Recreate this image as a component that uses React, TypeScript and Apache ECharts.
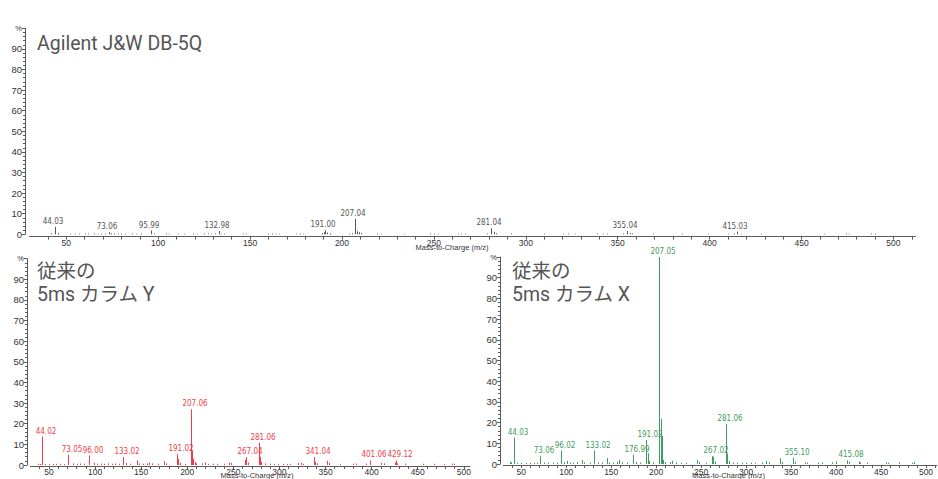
import React, { useEffect, useRef } from "react";
import * as echarts from "echarts";

// ---------- Top panel: Agilent J&W DB-5Q ----------
const topTitle = "Agilent J&W DB-5Q";
const topLabels = ["44.03", "73.06", "95.99", "132.98", "191.00", "207.04", "281.04", "355.04", "415.03"];
const topPeakX = [44.03, 73.06, 95.99, 132.98, 191.0, 207.04, 281.04, 355.04, 415.03];
const topPeakY = [3.6, 1.0, 1.8, 1.6, 1.9, 7.5, 2.9, 1.6, 1.3];
const topMinor: number[][] = [
  [41.5, 0.5], [45.3, 0.6], [52, 0.3], [55, 0.4], [57, 0.3], [60, 0.4], [62, 0.3], [65, 0.4], [67, 0.3], [69, 0.4],
  [71, 0.3], [74.5, 0.5], [76, 0.4], [78, 0.4], [80, 0.4], [82, 0.3], [86, 0.4], [88, 0.3], [90.5, 0.4], [97.5, 0.4],
  [104, 0.4], [106, 0.3], [111, 0.3], [114, 0.3], [119, 0.4], [121, 0.3], [125, 0.4], [127, 0.4], [129, 0.3], [131, 0.4],
  [134, 0.3], [136, 0.3], [146, 0.4], [148, 0.3], [160, 0.3], [162, 0.4], [164, 0.3], [166, 0.3], [175, 0.3], [177, 0.4],
  [179, 0.3], [189, 0.6], [190.3, 1.0], [192, 0.8], [193.5, 0.5], [204, 0.4], [205.5, 0.5], [208, 1.5], [209, 1.0], [210.5, 0.6],
  [219, 0.4], [221, 0.3], [234, 0.3], [248, 0.4], [250, 0.3], [252, 0.3], [263, 0.4], [265, 0.3], [267, 0.3], [279, 0.4],
  [282.5, 1.2], [284, 0.5], [292, 0.4], [310, 0.3], [320, 0.3], [323, 0.4], [327, 0.3], [339, 0.4], [342, 0.4], [344, 0.3],
  [353, 0.4], [356.5, 0.6], [358, 0.4], [369, 0.3], [385, 0.4], [399, 0.3], [410, 0.3], [413, 0.4], [417, 0.3], [428, 0.3],
  [462, 0.3], [474, 0.4], [476, 0.3], [488, 0.4], [490, 0.3],
];

// ---------- Bottom-left panel: conventional 5ms column Y ----------
const yTitle1 = "従来の";
const yTitle2 = "5ms カラム Y";
const yLabels = ["44.02", "73.05", "96.00", "133.02", "191.02", "207.06", "267.04", "281.06", "341.04", "401.06", "429.12"];
const yPeakX = [42.1, 70.9, 93.7, 130.6, 188.5, 204.0, 264.0, 277.8, 337.7, 397.9, 426.0];
const yPeakY = [13.8, 5.0, 4.6, 3.9, 5.2, 27.0, 3.8, 10.8, 3.8, 2.2, 2.2];
const yMinor: number[][] = [
  [38, 0.6], [40, 0.5], [46, 0.5], [50, 0.6], [54, 0.5], [58, 0.6], [62, 0.6], [66, 0.5], [76, 0.8], [80, 0.6],
  [84, 0.7], [88, 0.6], [99, 1.0], [102, 0.6], [106, 0.7], [110, 0.6], [114, 0.8], [118, 0.6], [122, 0.7], [126, 0.6],
  [134, 1.0], [138, 0.6], [145, 2.2], [148, 0.8], [152, 0.6], [156, 0.8], [159, 1.2], [162, 0.8], [168, 0.6], [174.5, 1.8],
  [177, 0.8], [190.3, 3.0], [192, 1.2], [198, 0.6], [205.2, 7.0], [206.3, 3.0], [208, 1.5], [210, 0.8], [216, 0.8], [219, 1.2],
  [222, 0.6], [228, 0.6], [232, 0.6], [240, 0.6], [245, 1.2], [248, 1.0], [262.5, 2.5], [266, 1.2], [279, 4.0], [280.5, 1.5],
  [284, 0.8], [290, 0.6], [294, 0.6], [298, 0.5], [304, 0.6], [308, 0.5], [312, 0.6], [320, 1.0], [323, 1.2], [326, 0.6],
  [339, 1.5], [341, 0.8], [351.7, 2.0], [354, 1.0], [366, 0.6], [380, 0.6], [383, 0.7], [394, 0.6], [398.5, 0.8], [410, 1.0],
  [413, 0.8], [425, 1.2], [427, 0.8], [436, 0.7], [456, 0.6], [468, 0.6], [478, 0.5], [487, 0.7], [489, 0.6],
];

// ---------- Bottom-right panel: conventional 5ms column X ----------
const xTitle1 = "従来の";
const xTitle2 = "5ms カラム X";
const xLabels = ["44.03", "73.06", "96.02", "133.02", "176.99", "191.02", "207.05", "267.02", "281.06", "355.10", "415.08"];
const xPeakX = [41.9, 71.0, 93.8, 130.6, 174.5, 189.0, 203.6, 262.4, 277.6, 352.3, 411.8];
const xPeakY = [12.7, 4.0, 6.4, 6.5, 4.5, 11.6, 100, 3.8, 19.4, 3.0, 1.8];
const xMinor: number[][] = [
  [37, 1.0], [38.5, 0.8], [45, 0.6], [50, 0.6], [55, 0.5], [60, 0.6], [64, 0.5], [68, 0.6], [75, 0.7], [80, 0.6],
  [85, 0.7], [90, 0.6], [97, 0.8], [101, 1.5], [104, 0.8], [108, 0.6], [112, 0.9], [117, 2.0], [120, 0.8], [126, 0.7],
  [135, 0.8], [140, 0.7], [144.8, 2.9], [148, 0.8], [152, 0.7], [156, 0.9], [159, 2.0], [162, 0.8], [168, 0.7], [178, 1.0],
  [182, 0.7], [190.8, 5.2], [192.5, 1.5], [197, 0.8], [205, 21.8], [206.1, 13.5], [208, 2.0], [210, 0.9], [215, 1.0], [218, 1.5],
  [222, 0.8], [228, 0.7], [233, 0.6], [245, 2.0], [248, 1.0], [255, 0.6], [263.3, 3.5], [265, 1.2], [279, 5.0], [280.5, 1.5],
  [285, 0.8], [290, 0.7], [295, 0.6], [300, 0.6], [305, 0.6], [310, 0.5], [318, 0.8], [322, 1.5], [325, 0.9], [337.5, 2.7],
  [340, 1.0], [354, 1.2], [366, 0.8], [368, 0.6], [380, 0.7], [384, 0.8], [396, 0.8], [400, 1.2], [414, 1.0], [425, 1.2],
  [427, 0.8], [434, 0.6], [455, 0.8], [458, 0.6], [470, 0.8], [484, 0.6], [487, 1.0],
];

const axisName = "Mass-to-Charge (m/z)";

const GRAY = "#555555";
const RED = "#ef3e48";
const GREEN = "#3f9c62";
const AXIS = "#5a5a5a";
const TXT = "#333333";
const TITLE = "#555555";
const TITLE_FONT = 'Roboto, "Noto Sans CJK JP", sans-serif';
const SMALL_FONT = '"Liberation Sans", Arial, sans-serif';
const LABEL_FONT = '"Liberation Sans Narrow", "DejaVu Sans Condensed", "Liberation Sans", sans-serif';

function lineItem(color: string) {
  return (params: any, api: any) => {
    const x = api.value(0);
    const y = api.value(1);
    const a = api.coord([x, 0]);
    const b = api.coord([x, y]);
    const px = Math.round(a[0]) + 0.5;
    return {
      type: "line",
      shape: { x1: px, y1: a[1], x2: px, y2: b[1] },
      style: { stroke: color, lineWidth: 1 },
    };
  };
}

function labeledItem(color: string, labels: string[], dx: number) {
  return (params: any, api: any) => {
    const x = api.value(0);
    const y = api.value(1);
    const a = api.coord([x, 0]);
    const b = api.coord([x, y]);
    const px = Math.round(a[0]) + 0.5;
    return {
      type: "group",
      children: [
        {
          type: "line",
          shape: { x1: px, y1: a[1], x2: px, y2: b[1] },
          style: { stroke: color, lineWidth: 1 },
        },
        {
          type: "text",
          x: px + dx,
          y: b[1] - 1.5,
          style: {
            text: labels[params.dataIndex],
            fill: color,
            fontSize: 8,
            fontFamily: LABEL_FONT,
            align: "center",
            verticalAlign: "bottom",
          },
        },
      ],
    };
  };
}

function xAxisOf(gridIndex: number, min: number, max: number, offset: number, margin: number) {
  return {
    type: "value",
    gridIndex,
    min,
    max,
    interval: 10,
    offset,
    axisLine: { show: true, onZero: false, lineStyle: { color: AXIS, width: 1 } },
    axisTick: { show: true, length: 3, lineStyle: { color: AXIS } },
    axisLabel: {
      color: TXT,
      fontSize: 8.5,
      fontFamily: SMALL_FONT,
      margin,
      showMaxLabel: false,
      showMinLabel: false,
      formatter: (v: number) => (v % 50 === 0 ? String(v) : ""),
    },
    splitLine: { show: false },
  };
}

function yAxisOf(gridIndex: number, offset: number) {
  return {
    type: "value",
    gridIndex,
    min: 0,
    max: 100,
    interval: 10,
    offset,
    axisLine: { show: true, lineStyle: { color: AXIS, width: 1 } },
    axisTick: { show: true, length: 3, lineStyle: { color: AXIS } },
    minorTick: { show: true, splitNumber: 5, length: 2, lineStyle: { color: AXIS } },
    axisLabel: {
      color: TXT,
      fontSize: 9.5,
      fontFamily: SMALL_FONT,
      margin: 3,
      formatter: (v: number) => (v === 100 ? "{p|%}" : String(v)),
      rich: { p: { fontSize: 7.5, color: TXT, fontFamily: SMALL_FONT } },
    },
    splitLine: { show: false },
  };
}

function titleText(text: string, x: number, y: number) {
  return {
    type: "text",
    x,
    y,
    style: {
      text,
      fill: TITLE,
      fontSize: 19.5,
      fontFamily: TITLE_FONT,
      align: "left",
      verticalAlign: "middle",
    },
  };
}

function nameText(x: number, y: number) {
  return {
    type: "text",
    x,
    y,
    style: {
      text: axisName,
      fill: TXT,
      fontSize: 7.5,
      fontFamily: SMALL_FONT,
      align: "center",
      verticalAlign: "middle",
    },
  };
}

export default function App() {
  const ref = useRef<HTMLDivElement>(null);
  useEffect(() => {
    if (!ref.current) return;
    const chart = echarts.init(ref.current, undefined, { renderer: "svg" });
    const zip = (xs: number[], ys: number[]) => xs.map((x, i) => [x, ys[i]]);
    chart.setOption({
      animation: false,
      backgroundColor: "#ffffff",
      grid: [
        { left: 29.5, top: 28.3, width: 886, height: 206 },
        { left: 30.5, top: 258.7, width: 439.5, height: 206.3 },
        { left: 503.3, top: 257, width: 442.5, height: 207 },
      ],
      xAxis: [
        xAxisOf(0, 30, 512, 2.3, 2),
        xAxisOf(1, 30, 506.7, 1, 1.5),
        xAxisOf(2, 30, 512, 1, 2),
      ],
      yAxis: [yAxisOf(0, 4.5), yAxisOf(1, 3.5), yAxisOf(2, 3.3)],
      graphic: [
        titleText(topTitle, 37, 43),
        titleText(yTitle1, 37, 271),
        titleText(yTitle2, 37, 294),
        titleText(xTitle1, 512, 271),
        titleText(xTitle2, 512, 294),
        nameText(452, 247),
        nameText(257, 475.5),
        nameText(728.5, 475.5),
      ],
      series: [
        { type: "custom", xAxisIndex: 0, yAxisIndex: 0, renderItem: lineItem(GRAY), data: topMinor },
        { type: "custom", xAxisIndex: 0, yAxisIndex: 0, renderItem: labeledItem(GRAY, topLabels, -2.5), data: zip(topPeakX, topPeakY) },
        { type: "custom", xAxisIndex: 1, yAxisIndex: 1, renderItem: lineItem(RED), data: yMinor },
        { type: "custom", xAxisIndex: 1, yAxisIndex: 1, renderItem: labeledItem(RED, yLabels, 3.5), data: zip(yPeakX, yPeakY) },
        { type: "custom", xAxisIndex: 2, yAxisIndex: 2, renderItem: lineItem(GREEN), data: xMinor },
        { type: "custom", xAxisIndex: 2, yAxisIndex: 2, renderItem: labeledItem(GREEN, xLabels, 3.5), data: zip(xPeakX, xPeakY) },
      ],
    });
    return () => chart.dispose();
  }, []);
  return (
    <div
      ref={ref}
      style={{ position: "fixed", left: 0, top: 0, width: 938, height: 479, background: "#fff" }}
    />
  );
}
